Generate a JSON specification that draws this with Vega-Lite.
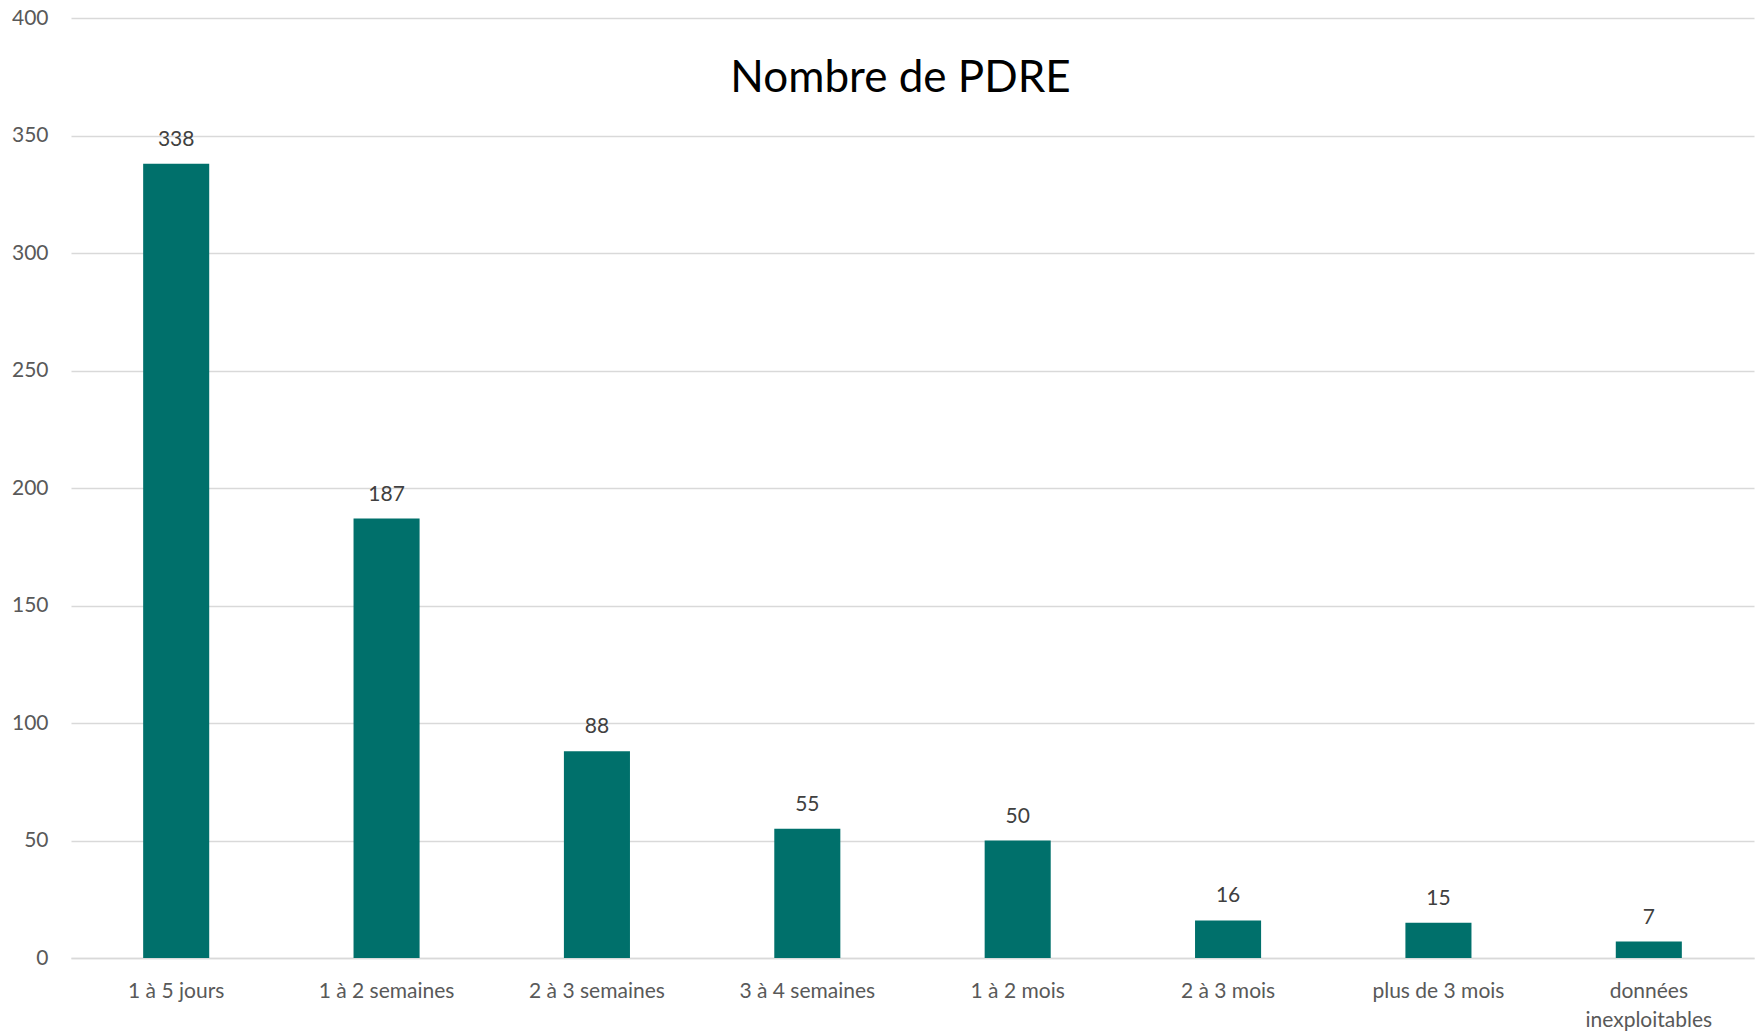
{
  "$schema": "https://vega.github.io/schema/vega-lite/v6.json",
  "autosize": {"type": "none"},
  "padding": {"left": 71, "top": 18, "right": 4, "bottom": 74},
  "width": 1683,
  "height": 940,
  "background": "white",
  "title": {
    "text": "Nombre de PDRE",
    "font": "Lato",
    "fontSize": 44,
    "fontWeight": "normal",
    "color": "#000000",
    "anchor": "middle",
    "baseline": "alphabetic",
    "offset": -129,
    "dx": -12
  },
  "data": {
    "values": [
      {"duree": "1 à 5 jours", "nombre": 338},
      {"duree": "1 à 2 semaines", "nombre": 187},
      {"duree": "2 à 3 semaines", "nombre": 88},
      {"duree": "3 à 4 semaines", "nombre": 55},
      {"duree": "1 à 2 mois", "nombre": 50},
      {"duree": "2 à 3 mois", "nombre": 16},
      {"duree": "plus de 3 mois", "nombre": 15},
      {"duree": "données inexploitables", "nombre": 7}
    ]
  },
  "config": {
    "view": {"stroke": null},
    "font": "Lato"
  },
  "encoding": {
    "x": {
      "field": "duree",
      "type": "nominal",
      "sort": null,
      "scale": {"paddingInner": 0.686, "paddingOuter": 0.343},
      "axis": {
        "title": null,
        "labelAngle": 0,
        "labelFont": "Lato",
        "labelFontSize": 21,
        "labelColor": "#595959",
        "labelPadding": 22,
        "labelBaseline": "top",
        "labelLineHeight": 29,
        "labelExpr": "datum.label == 'données inexploitables' ? ['données', 'inexploitables'] : datum.label",
        "ticks": false,
        "domain": true,
        "domainColor": "#d9d9d9",
        "domainWidth": 1.5,
        "grid": false
      }
    },
    "y": {
      "field": "nombre",
      "type": "quantitative",
      "scale": {"domain": [0, 400], "nice": false},
      "axis": {
        "title": null,
        "values": [0, 50, 100, 150, 200, 250, 300, 350, 400],
        "labelFont": "Lato",
        "labelFontSize": 21,
        "labelColor": "#595959",
        "labelPadding": 23,
        "ticks": false,
        "domain": false,
        "grid": true,
        "gridColor": "#d9d9d9",
        "gridWidth": 1.5
      }
    }
  },
  "layer": [
    {
      "mark": {"type": "bar", "color": "#00706b"}
    },
    {
      "mark": {
        "type": "text",
        "baseline": "alphabetic",
        "dy": -18,
        "font": "Lato",
        "fontSize": 21,
        "color": "#404040"
      },
      "encoding": {"text": {"field": "nombre", "type": "quantitative"}}
    }
  ]
}
